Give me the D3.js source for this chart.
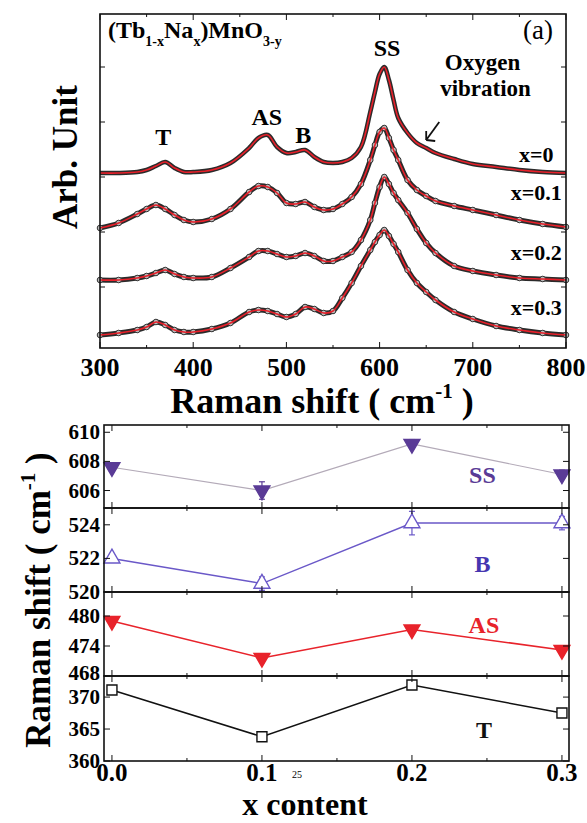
<!DOCTYPE html>
<html><head><meta charset="utf-8">
<script src="https://cdn.jsdelivr.net/npm/d3@7/dist/d3.min.js"></script>
<style>
body{margin:0;background:#fff;}
svg{display:block;font-family:"Liberation Serif","Times New Roman",serif;}
</style></head>
<body><svg id="chart" width="587" height="823"></svg>
<script>
// ---------- Panel (a) data: Raman spectra (stacked, arb. units) ----------
const ramanShift = [300,320,340,350,360,370,380,390,400,420,440,460,470,480,490,500,510,520,530,540,550,560,570,580,590,595,600,605,610,615,620,630,640,650,660,680,700,725,750,775,800];
const spec_x0  = [17.5,17.5,17.6,17.8,18.2,18.6,18.0,17.6,17.6,17.8,18.5,20.0,21.0,21.3,20.1,19.5,19.6,19.8,19.1,18.6,18.5,18.6,19.0,20.1,23.6,25.6,27.4,28.1,26.8,24.8,23.0,21.5,20.5,20.0,19.5,18.9,18.4,18.1,17.8,17.6,17.5];
const spec_x01 = [12.0,12.5,13.4,13.9,14.3,13.9,13.3,12.8,12.6,12.9,13.9,15.6,16.2,16.1,15.5,14.5,14.4,14.6,14.1,13.8,13.9,14.4,15.1,16.4,18.8,20.3,21.6,22.0,21.0,19.8,18.8,16.8,15.8,15.2,14.7,14.2,13.8,13.3,12.8,12.4,12.1];
const spec_x02 = [6.8,6.8,7.0,7.2,7.5,7.8,7.4,7.1,7.0,7.1,8.0,9.1,9.7,9.7,9.4,9.1,9.2,9.5,9.2,8.7,8.7,9.1,9.6,10.8,12.8,14.5,16.1,17.1,16.4,15.5,14.8,13.5,11.9,10.5,9.5,8.2,7.7,7.3,7.0,6.9,6.8];
const spec_x03 = [1.3,1.5,1.8,2.1,2.6,2.3,1.8,1.6,1.6,1.9,2.5,3.6,3.8,3.7,3.4,3.1,3.4,4.1,3.9,3.5,3.7,5.0,6.5,8.2,9.8,10.6,11.3,11.8,11.2,10.4,9.6,7.8,6.5,5.6,4.8,3.6,2.9,2.2,1.8,1.5,1.3];
const specLabels = ["x=0","x=0.1","x=0.2","x=0.3"];
const shiftTicks = [300,400,500,600,700,800];

// ---------- Panel (b) data: peak positions vs x ----------
const xContent = [0.0, 0.1, 0.2, 0.3];
const ssShift = [607.6, 606.0, 609.2, 607.1];
const ssErr   = [0.3, 0.6, 0.3, 0.3];
const bShift  = [522.0, 520.5, 524.1, 524.1];
const bErr    = [0.2, 0.4, 0.7, 0.4];
const asShift = [479.0, 471.6, 477.3, 473.2];
const asErr   = [0.5, 0.5, 0.8, 0.5];
const tShift  = [371.1, 363.8, 371.9, 367.5];
const tErr    = [0.3, 0.3, 0.3, 0.3];
const xTicks  = [0.0, 0.1, 0.2, 0.3];

const svg = d3.select("#chart");
svg.append("rect").attr("width",587).attr("height",823).attr("fill","#fff");

// ================= Panel (a) =================
const A = {l:100, r:566, t:14, b:348};
const xa = d3.scaleLinear().domain([300,800]).range([A.l,A.r]);
const ya = d3.scaleLinear().domain([0,33.4]).range([A.b,A.t]);
const ga = svg.append("g");

const series = [spec_x0, spec_x01, spec_x02, spec_x03];
const line = d3.line().x(d=>xa(d[0])).y(d=>ya(d[1])).curve(d3.curveCatmullRom.alpha(0.5));
series.forEach((s,i)=>{
  const pts = ramanShift.map((x,j)=>[x,s[j]]);
  ga.append("path").attr("d",line(pts)).attr("fill","none")
    .attr("stroke","#2b2b2b").attr("stroke-width", i===0?4.5:5).attr("stroke-linejoin","round");
  if(i>0){
    ga.selectAll(null).data(pts).enter().append("circle")
      .attr("cx",d=>xa(d[0])).attr("cy",d=>ya(d[1])).attr("r",2.8)
      .attr("fill","#bbb").attr("stroke","#333").attr("stroke-width",1);
  }
  ga.append("path").attr("d",line(pts)).attr("fill","none")
    .attr("stroke","#e8202a").attr("stroke-width",1.6);
});

// frame & ticks
ga.append("rect").attr("x",A.l).attr("y",A.t).attr("width",A.r-A.l).attr("height",A.b-A.t)
  .attr("fill","none").attr("stroke","#111").attr("stroke-width",1.6);
const minorA = d3.range(350,800,100);
shiftTicks.forEach(v=>{
  ga.append("line").attr("x1",xa(v)).attr("x2",xa(v)).attr("y1",A.b).attr("y2",A.b-6).attr("stroke","#111");
  ga.append("line").attr("x1",xa(v)).attr("x2",xa(v)).attr("y1",A.t).attr("y2",A.t+6).attr("stroke","#111");
});
minorA.forEach(v=>{
  ga.append("line").attr("x1",xa(v)).attr("x2",xa(v)).attr("y1",A.b).attr("y2",A.b-3).attr("stroke","#111");
  ga.append("line").attr("x1",xa(v)).attr("x2",xa(v)).attr("y1",A.t).attr("y2",A.t+3).attr("stroke","#111");
});
[6.1,11.6,17.1,22.6,28.1].forEach(v=>{
  ga.append("line").attr("x1",A.l).attr("x2",A.l+5).attr("y1",ya(v)).attr("y2",ya(v)).attr("stroke","#111");
  ga.append("line").attr("x1",A.r).attr("x2",A.r-5).attr("y1",ya(v)).attr("y2",ya(v)).attr("stroke","#111");
});
ga.selectAll(null).data(shiftTicks).enter().append("text")
  .attr("x",d=>xa(d)).attr("y",A.b+28).attr("text-anchor","middle")
  .attr("font-size",26).attr("font-weight","bold").text(d=>d);

// axis titles
const xt = ga.append("text").attr("x",322).attr("y",413).attr("text-anchor","middle")
  .attr("font-size",36).attr("font-weight","bold");
xt.append("tspan").text("Raman shift ( cm");
xt.append("tspan").attr("font-size",21).attr("dy",-15).text("-1");
xt.append("tspan").attr("dy",15).text(" )");
ga.append("text").attr("transform","translate(77,157) rotate(-90)").attr("text-anchor","middle")
  .attr("font-size",35).attr("font-weight","bold").text("Arb. Unit");

// annotations
const form = ga.append("text").attr("x",108).attr("y",38).attr("font-size",24).attr("font-weight","bold");
form.append("tspan").text("(Tb");
form.append("tspan").attr("font-size",14).attr("dy",8).text("1-x");
form.append("tspan").attr("dy",-8).text("Na");
form.append("tspan").attr("font-size",14).attr("dy",8).text("x");
form.append("tspan").attr("dy",-8).text(")MnO");
form.append("tspan").attr("font-size",14).attr("dy",8).text("3-y");
ga.append("text").attr("x",538).attr("y",39).attr("text-anchor","middle").attr("font-size",27).text("(a)");
const peakLbl = [["SS",608,29.2],["AS",479,22.3],["B",518,20.5],["T",368,20.3]];
peakLbl.forEach(p=>ga.append("text").attr("x",xa(p[1])).attr("y",ya(p[2])).attr("text-anchor","middle")
  .attr("font-size",24).attr("font-weight","bold").text(p[0]));
ga.append("text").attr("x",xa(670)).attr("y",ya(27.8)).attr("font-size",23).attr("font-weight","bold").text("Oxygen");
ga.append("text").attr("x",xa(665)).attr("y",ya(25.2)).attr("font-size",23).attr("font-weight","bold").text("vibration");
// arrow
const ax1=xa(664), ay1=ya(22.6), ax2=xa(650), ay2=ya(20.8);
ga.append("line").attr("x1",ax1).attr("y1",ay1).attr("x2",ax2).attr("y2",ay2).attr("stroke","#111").attr("stroke-width",1.8);
ga.append("path").attr("d",`M${ax2},${ay2} l0,-9 M${ax2},${ay2} l9,1`).attr("stroke","#111").attr("stroke-width",1.8).attr("fill","none");
const lblY = [18.6, 14.8, 8.8, 3.3];
specLabels.forEach((t,i)=>ga.append("text").attr("x",xa(768)).attr("y",ya(lblY[i])).attr("text-anchor","middle")
  .attr("font-size",22).attr("font-weight","bold").text(t));

// ================= Panel (b) =================
const B = {l:104, r:569};
const xb = d3.scaleLinear().domain([-0.0053,0.3047]).range([B.l,B.r]);
const subs = [
  {vals:ssShift, err:ssErr, dom:[604.8,610.5], top:425, bot:508, ticks:[606,608,610], color:"#5a3b96", lineColor:"#b3aab8", marker:"tridown", fill:true, label:"SS"},
  {vals:bShift, err:bErr, dom:[520,525], top:508, bot:592, ticks:[520,522,524], color:"#6a58c8", lineColor:"#6a58c8", marker:"triup", fill:false, label:"B"},
  {vals:asShift, err:asErr, dom:[468,484.8], top:592, bot:676, ticks:[468,474,480], color:"#e8232b", lineColor:"#e8232b", marker:"tridown", fill:true, label:"AS"},
  {vals:tShift, err:tErr, dom:[360,373.3], top:676, bot:761, ticks:[360,365,370], color:"#111", lineColor:"#111", marker:"square", fill:false, label:"T"}
];
const gb = svg.append("g");
const labelPos = [[0.247,483,"#5a3b96"],[0.247,572,"#4636b0"],[0.248,633,"#e8232b"],[0.248,738,"#111"]];
subs.forEach((s,k)=>{
  const y = d3.scaleLinear().domain(s.dom).range([s.bot,s.top]);
  const g = gb.append("g");
  const pts = xContent.map((x,i)=>[x,s.vals[i],s.err[i]]);
  g.append("path").attr("d",d3.line().x(d=>xb(d[0])).y(d=>y(d[1]))(pts))
    .attr("fill","none").attr("stroke",s.lineColor).attr("stroke-width",k===0?1.2:1.5);
  pts.forEach(d=>{
    const cx=xb(d[0]), y1=y(d[1]-d[2]), y2=y(d[1]+d[2]);
    g.append("line").attr("x1",cx).attr("x2",cx).attr("y1",y1).attr("y2",y2).attr("stroke",s.color).attr("stroke-width",1.2);
    g.append("line").attr("x1",cx-3).attr("x2",cx+3).attr("y1",y1).attr("y2",y1).attr("stroke",s.color).attr("stroke-width",1.2);
    g.append("line").attr("x1",cx-3).attr("x2",cx+3).attr("y1",y2).attr("y2",y2).attr("stroke",s.color).attr("stroke-width",1.2);
  });
  const sym = s.marker==="square" ? d3.symbolSquare : d3.symbolTriangle;
  const size = s.marker==="square" ? 100 : 110;
  g.selectAll(null).data(pts).enter().append("path")
    .attr("d",d3.symbol().type(sym).size(size))
    .attr("transform",d=>`translate(${xb(d[0])},${y(d[1])})${s.marker==="tridown"?" rotate(180)":""}`)
    .attr("fill",s.fill?s.color:"#fff").attr("stroke",s.color).attr("stroke-width",1.4);
  g.append("rect").attr("x",B.l).attr("y",s.top).attr("width",B.r-B.l).attr("height",s.bot-s.top)
    .attr("fill","none").attr("stroke","#111").attr("stroke-width",1.6);
  xTicks.forEach(v=>{
    g.append("line").attr("x1",xb(v)).attr("x2",xb(v)).attr("y1",s.bot).attr("y2",s.bot-6).attr("stroke","#111");
    g.append("line").attr("x1",xb(v)).attr("x2",xb(v)).attr("y1",s.top).attr("y2",s.top+6).attr("stroke","#111");
  });
  [0.05,0.15,0.25].forEach(v=>{
    g.append("line").attr("x1",xb(v)).attr("x2",xb(v)).attr("y1",s.bot).attr("y2",s.bot-3).attr("stroke","#111");
    g.append("line").attr("x1",xb(v)).attr("x2",xb(v)).attr("y1",s.top).attr("y2",s.top+3).attr("stroke","#111");
  });
  s.ticks.forEach(v=>{
    g.append("line").attr("x1",B.l).attr("x2",B.l+6).attr("y1",y(v)).attr("y2",y(v)).attr("stroke","#111");
    g.append("line").attr("x1",B.r).attr("x2",B.r-6).attr("y1",y(v)).attr("y2",y(v)).attr("stroke","#111");
  });
  g.selectAll(null).data(s.ticks).enter().append("text")
    .attr("x",B.l-4).attr("y",(d,i)=>y(d)+(k===2&&i===0?4:7)).attr("text-anchor","end")
    .attr("font-size",21).attr("font-weight","bold").text(d=>d);
  const lp = labelPos[k];
  g.append("text").attr("x",xb(lp[0])).attr("y",lp[1]).attr("text-anchor","middle")
    .attr("font-size",24).attr("font-weight","bold").attr("fill",lp[2]).text(s.label);
});
gb.selectAll(null).data(xTicks).enter().append("text")
  .attr("x",d=>xb(d)).attr("y",781).attr("text-anchor","middle")
  .attr("font-size",25).attr("font-weight","bold").text(d=>d.toFixed(1));
gb.append("text").attr("x",xb(0.12)).attr("y",778).attr("text-anchor","start").attr("font-size",10).text("25");
gb.append("text").attr("x",305).attr("y",815).attr("text-anchor","middle")
  .attr("font-size",32).attr("font-weight","bold").text("x content");
const yt = gb.append("text").attr("transform","translate(50,600) rotate(-90)").attr("text-anchor","middle")
  .attr("font-size",35).attr("font-weight","bold");
yt.append("tspan").text("Raman shift ( cm");
yt.append("tspan").attr("font-size",21).attr("dy",-15).text("-1");
yt.append("tspan").attr("dy",15).text(" )");
</script></body></html>
